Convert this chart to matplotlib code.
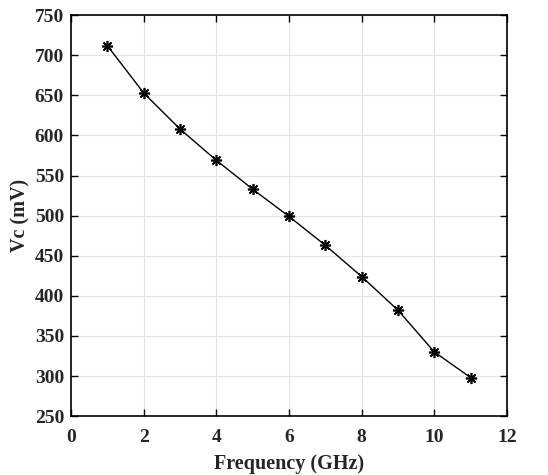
import matplotlib
matplotlib.use('Agg')
import matplotlib.pyplot as plt

# データ
freq_ghz = [1, 2, 3, 4, 5, 6, 7, 8, 9, 10, 11]
vc_mv = [712, 653, 608, 569, 533, 499, 463, 424, 382, 330, 298]

x_ticks = [0, 2, 4, 6, 8, 10, 12]
y_ticks = [250, 300, 350, 400, 450, 500, 550, 600, 650, 700, 750]

plt.rcParams['font.family'] = ['Liberation Serif', 'DejaVu Serif']
plt.rcParams['font.weight'] = 'bold'

fig = plt.figure(figsize=(5.48, 4.75), dpi=100)
ax = fig.add_axes([0.1296, 0.124, 0.7956, 0.844])

ax.plot(freq_ghz, vc_mv, color='black', lw=1.0, marker=(8, 2, 0), markersize=8, markeredgewidth=1.2)

ax.set_xlim(0, 12)
ax.set_ylim(250, 750)
ax.set_xticks(x_ticks)
ax.set_yticks(y_ticks)
ax.grid(True, color='#e3e3e3', lw=0.8)
ax.set_axisbelow(True)
ax.tick_params(direction='in', top=True, right=True, labelsize=14, length=5, width=1,
               labelcolor='#262626')
ax.tick_params(axis='x', pad=9)
ax.tick_params(axis='y', pad=5)
for s in ax.spines.values():
    s.set_linewidth(1.2)

ax.set_xlabel('Frequency (GHz)', fontsize=14.5, fontweight='bold', labelpad=6, color='#262626')
ax.set_ylabel('Vc (mV)', fontsize=14.5, fontweight='bold', labelpad=3, color='#262626')

plt.savefig('out.png', dpi=100)
plt.close()
